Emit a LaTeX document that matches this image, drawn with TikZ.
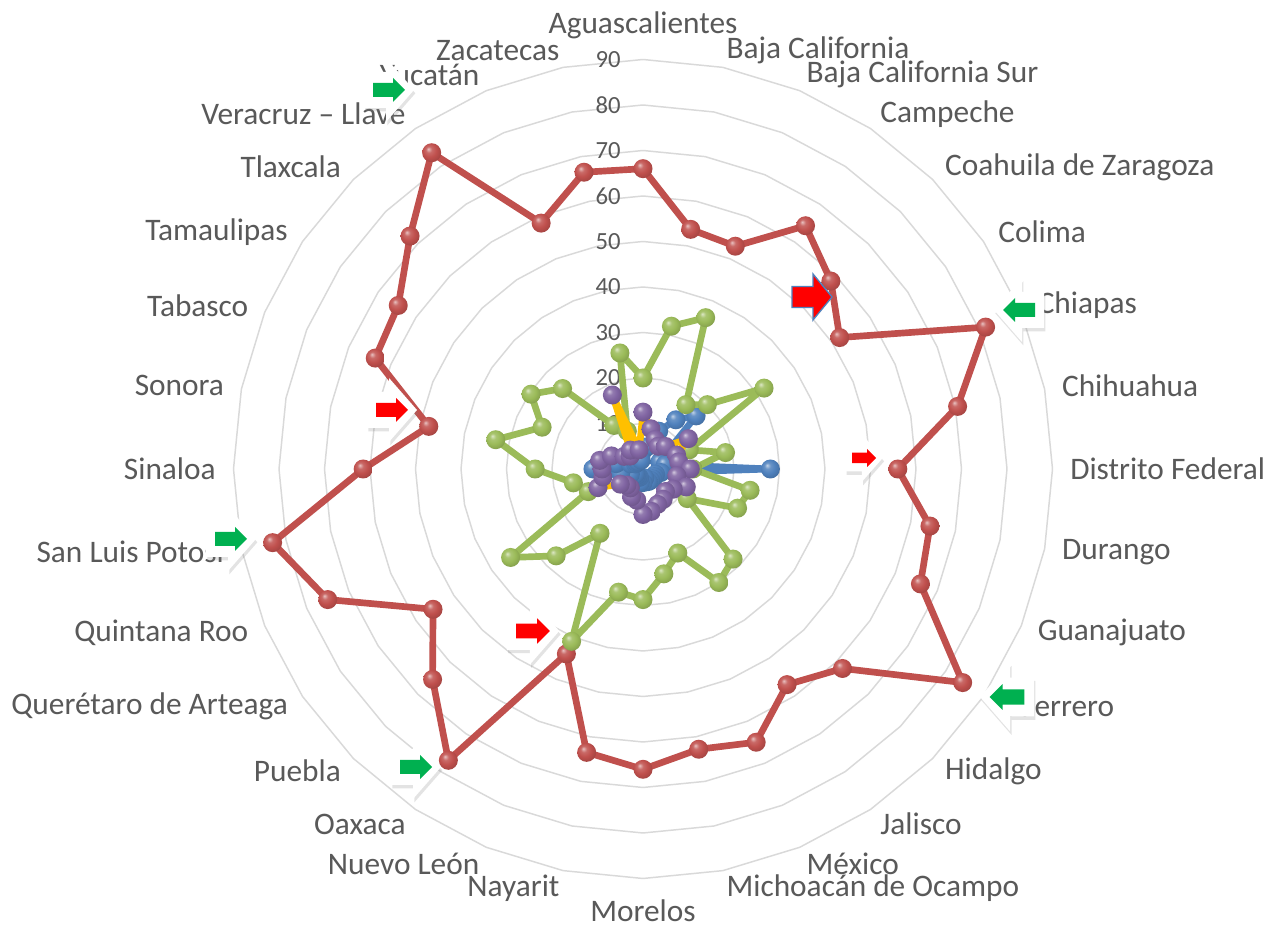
\documentclass[tikz,border=0pt]{standalone}
\usepackage{fontspec}
\setmainfont{Carlito}
\usetikzlibrary{shadows}

\definecolor{txtgray}{HTML}{595959}
\definecolor{gridgray}{HTML}{D9D9D9}
\definecolor{serred}{HTML}{C0504D}
\definecolor{sergreen}{HTML}{9BBB59}
\definecolor{serblue}{HTML}{4F81BD}
\definecolor{serpurple}{HTML}{8064A2}
\definecolor{serorange}{HTML}{FFC000}
\definecolor{arrgreen}{HTML}{00B050}
\definecolor{arrred}{HTML}{FF0000}
\definecolor{arrblue}{HTML}{4F81BD}
\colorlet{ballc}{serred}

\pgfdeclareradialshading[ballc]{sphere}{\pgfpoint{-9bp}{10bp}}{%
  color(0bp)=(ballc!35!white); color(8bp)=(ballc!85!white); color(18bp)=(ballc);
  color(30bp)=(ballc!85!black); color(50bp)=(ballc!55!black)}

\tikzset{
  grid/.style={gridgray, line width=1.1pt},
  state/.style={text=txtgray, font=\fontsize{23.5}{28}\selectfont, inner sep=0pt},
  tick/.style={text=txtgray, font=\fontsize{18.5}{22}\selectfont, inner sep=0pt, anchor=east},
  series/.style={line width=5pt, line join=round, #1},
}

% one series: coordinates #10 ... #131
\newcommand{\radar}[2]{%
  \foreach \v [count=\i from 0] in {#2} {\coordinate (#1\i) at ({90-11.25*\i}:{4.55*\v});}%
}
% series #1, line colour #2, marker colour #3
\newcommand{\plotseries}[3]{%
  \draw[series=#2] (#10) \foreach \i in {1,...,31} {-- (#1\i)} -- cycle;
  \colorlet{ballc}{#3}%
  \foreach \i in {0,...,31} \shade[shading=sphere] (#1\i) circle (9.5);
}
% callout arrow: centre, direction (1 right, -1 left), colour, size
\newcommand{\callarrow}[4]{%
  \begin{scope}[shift={#1}, xscale=#2, scale=#4]
    \fill[white, drop shadow={opacity=0.22, shadow xshift=1pt, shadow yshift=-2.5pt}]
      (-25,-18) -- (-3,-18) -- (-3,-32) -- (25,0) -- (-3,32) -- (-3,18) -- (-25,18) -- cycle;
    \fill[#3] (-16,-7) -- (4,-7) -- (4,-12) -- (16,0) -- (4,12) -- (4,7) -- (-16,7) -- cycle;
  \end{scope}}

\begin{document}
\begin{tikzpicture}[x=0.75pt, y=0.75pt]
  \useasboundingbox[fill=white] (0,0) rectangle (1268,928);

  \begin{scope}[shift={(643,459)}]
    \foreach \r in {10,20,...,90}
      \draw[grid] (90:{4.55*\r}) \foreach \i in {1,...,31} {-- ({90-11.25*\i}:{4.55*\r})} -- cycle;
    \foreach \r in {0,10,...,90}
      \node[tick] (t\r) at (-22,{4.55*\r}) {\r};

    \node[state, anchor=south] (s0) at (90:430) {Aguascalientes};
    \foreach \name [count=\i] in {Baja California, Baja California Sur, Campeche,
        Coahuila de Zaragoza, Colima, Chiapas, Chihuahua, Distrito Federal, Durango,
        Guanajuato, Guerrero, Hidalgo, Jalisco, México, Michoacán de Ocampo}
      \node[state, anchor=west] (s\i) at ({90-11.25*\i}:427) {\name};
    \node[state, anchor=north] (s16) at (-90:430) {Morelos};
    \foreach \name [count=\i from 17] in {Nayarit, Nuevo León, Oaxaca, Puebla,
        Querétaro de Arteaga, Quintana Roo, San Luis Potosí, Sinaloa, Sonora, Tabasco,
        Tamaulipas, Tlaxcala, Veracruz – Llave, Yucatán, Zacatecas}
      \node[state, anchor=east] (s\i) at ({90-11.25*\i}:427) {\name};

    \radar{r}{66,53.7,53,64.3,58.4,52,81.5,70.5,56,64.3,66,84.5,62,57,65,62.8,
      66,63.5,44,77,65.4,55.5,75,83,61.5,48,63.7,64.7,72.4,83.6,58.5,66.5}
    \radar{b}{4,5,9,13,16.5,6,4,5,28,4,3,3,3,3,3,2,3,3,2,2,2,2,3,5,11,6,3,2,2,2,3,2}
    \radar{g}{20,32,36,17,20,32,11,18.5,11,24,22.5,11.7,28,30,20,23.5,
      28.7,27.6,41,17,27,35,13,15.6,23.7,33,24,29.6,25,11.5,9,26}
    \radar{p}{12.5,9,7,6,7,12,8,8,10.4,7.6,10.3,8,7,8,8.4,9.5,
      10,7,6.6,5,5,6,10.7,9,9,9.7,7.5,5,4,5,17.6,4.3}

    \plotseries{r}{serred}{serred}
    \plotseries{b}{serblue}{serblue}
    \plotseries{g}{sergreen}{sergreen}
    \plotseries{p}{serorange}{serpurple}
  \end{scope}

  \callarrow{(389,838)}{1}{arrgreen}{1}
  \callarrow{(1019,618)}{-1}{arrgreen}{1}
  \callarrow{(1007,231)}{-1}{arrgreen}{1.08}
  \callarrow{(231,389)}{1}{arrgreen}{1}
  \callarrow{(416,161)}{1}{arrgreen}{1}
  \callarrow{(864,470)}{1}{arrred}{0.75}
  \callarrow{(392,518)}{1}{arrred}{1}
  \callarrow{(533,297)}{1}{arrred}{1.05}
  \filldraw[fill=arrred, draw=arrblue, line width=1pt]
    (792,620.5) -- (813,620.5) -- (813,608) -- (832,631) -- (813,654) -- (813,641.5) -- (792,641.5) -- cycle;
\end{tikzpicture}
\end{document}
